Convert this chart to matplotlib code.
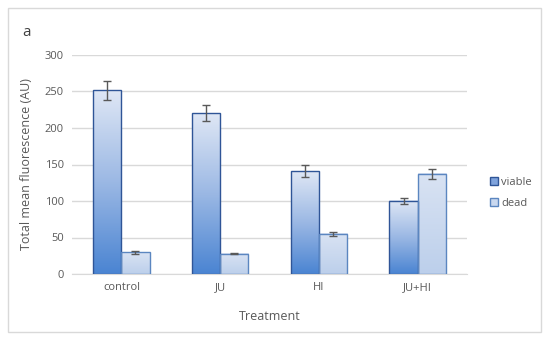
import matplotlib
matplotlib.use("Agg")
import matplotlib.pyplot as plt
import numpy as np
from matplotlib.colors import LinearSegmentedColormap
from matplotlib.patches import Rectangle

categories = ["control", "JU", "HI", "JU+HI"]
viable = [252, 220, 141, 100]
viable_err = [13, 11, 8, 4]
dead = [30, 28, 55, 137]
dead_err = [2, 1, 3, 7]
yticks = [0, 50, 100, 150, 200, 250, 300]

plt.rcParams['font.family'] = ['Open Sans', 'DejaVu Sans']
txt = '#595959'

fig = plt.figure(figsize=(5.5, 3.41), dpi=100)
fig.patches.append(Rectangle((8/550, 1-332/341), 533/550, 324/341, transform=fig.transFigure,
                             fill=False, edgecolor='#d9d9d9', linewidth=1))
ax = fig.add_axes([72/550, 1-274/341, 395/550, 219/341])

x = np.arange(len(categories))
w = 0.285
b1 = ax.bar(x - w/2, viable, w, facecolor='none', edgecolor='#2f5597', linewidth=1.0, zorder=3)
b2 = ax.bar(x + w/2, dead, w, facecolor='none', edgecolor='#5b86c0', linewidth=1.0, zorder=3)

cm_v = LinearSegmentedColormap.from_list('v', ['#4a84d2', '#9bb8e4', '#dfe7f5'])
cm_d = LinearSegmentedColormap.from_list('d', ['#bccfeb', '#d9e3f3'])
grad = np.linspace(0, 1, 256).reshape(-1, 1)
for bars, cm in ((b1, cm_v), (b2, cm_d)):
    for p in bars:
        x0, y0 = p.get_x(), p.get_y()
        ax.imshow(grad, extent=(x0, x0 + p.get_width(), y0, y0 + p.get_height()),
                  origin='lower', cmap=cm, aspect='auto', zorder=2, interpolation='bilinear')

ax.errorbar(x - w/2, viable, yerr=viable_err, fmt='none', ecolor='#595959', elinewidth=1, capsize=3, zorder=4)
ax.errorbar(x + w/2, dead, yerr=dead_err, fmt='none', ecolor='#595959', elinewidth=1, capsize=3, zorder=4)

ax.set_xlim(-0.5, len(categories) - 0.5)
ax.set_ylim(0, 300)
ax.set_yticks(yticks)
ax.set_xticks(x)
ax.set_xticklabels(categories)
ax.tick_params(length=0, colors=txt, labelsize=8, pad=6)
ax.yaxis.grid(True, color='#d9d9d9', linewidth=1)
ax.set_axisbelow(True)
for s in ['top', 'right', 'left']:
    ax.spines[s].set_visible(False)
ax.spines['bottom'].set_color('#d9d9d9')
ax.set_ylabel('Total mean fluorescence (AU)', color=txt, fontsize=9, labelpad=8)
ax.set_xlabel('Treatment', color=txt, fontsize=9, labelpad=12)

leg_handles = [Rectangle((0, 0), 1, 1, facecolor='#7fa3dc', edgecolor='#2f5597'),
               Rectangle((0, 0), 1, 1, facecolor='#c9d8ef', edgecolor='#5b86c0')]
fig.legend(leg_handles, ['viable', 'dead'], loc='upper left', bbox_to_anchor=(480/550, 1-167/341),
           frameon=False, fontsize=8, labelcolor=txt, handlelength=0.7, handleheight=0.7,
           handletextpad=0.3, labelspacing=0.9)

fig.text(22/550, 1-32/341, 'a', color='#404040', fontsize=11, va='center')

fig.savefig('out.png', dpi=100)
